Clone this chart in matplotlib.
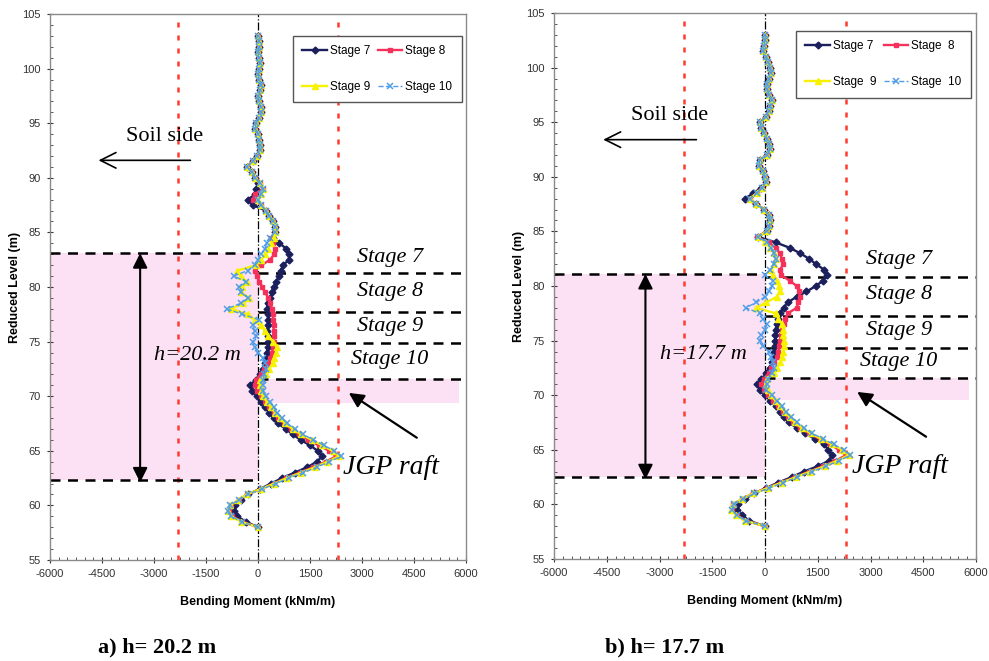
import matplotlib
matplotlib.use("Agg")
import matplotlib.pyplot as plt
from matplotlib.ticker import MultipleLocator

# pile node elevations (m)
levels = [58.0, 58.5, 59.0, 59.5, 60.0, 60.5, 61.0, 61.5, 62.0, 62.5,
          63.0, 63.5, 64.0, 64.5, 65.0, 65.5, 66.0, 66.5, 67.0, 67.5,
          68.0, 68.5, 69.0, 69.5, 70.0, 70.5, 71.0, 71.5, 72.0, 72.5,
          73.0, 73.5, 74.0, 74.5, 75.0, 75.5, 76.0, 76.5, 77.0, 77.5,
          78.0, 78.5, 79.0, 79.5, 80.0, 80.5, 81.0, 81.5, 82.0, 82.5,
          83.0, 83.5, 84.0, 84.5, 85.0, 85.5, 86.0, 86.5, 87.0, 87.5,
          88.0, 88.5, 89.0, 89.5, 90.0, 90.5, 91.0, 91.5, 92.0, 92.5,
          93.0, 93.5, 94.0, 94.5, 95.0, 95.5, 96.0, 96.5, 97.0, 97.5,
          98.0, 98.5, 99.0, 99.5, 100.0, 100.5, 101.0, 101.5, 102.0, 102.5,
          103.0]

# ---- case a) h = 20.2 m : bending moment (kNm/m) ----
# upper part of the wall, 90.0 m to 103.0 m (same for every stage)
top_a = [-80, -180, -330, -150, -20, 50, 60, 20, 0, -80,
         -60, 40, 100, 80, 20, 0, 60, 90, 30, 0,
         40, 60, 20, 0, 30, 20, 0]
a7 = [0, -350, -600, -700, -650, -500, -300, 50, 380, 690,
      1060, 1420, 1700, 1850, 1720, 1500, 1230, 1000, 800, 580,
      450, 320, 190, 80, -30, -170, -230, -60, 60, 150,
      200, 230, 250, 280, 290, 280, 270, 290, 290, 280,
      260, 280, 350, 400, 470, 530, 600, 660, 720, 900,
      880, 820, 620, 420, 480, 480, 420, 330, 220, -150,
      -290, -80, -50, 0] + top_a
a8 = [0, -450, -750, -850, -780, -560, -320, 80, 450, 800,
      1200, 1600, 1950, 2250, 2050, 1750, 1450, 1180, 950, 740,
      590, 460, 330, 210, 80, -30, -100, -60, 80, 170,
      280, 360, 400, 440, 470, 460, 450, 450, 440, 430,
      400, 360, 300, 200, 120, 40, -40, -90, 100, 350,
      470, 480, 420, 380, 480, 480, 420, 330, 220, 100,
      -150, -100, 150, 50] + top_a
a9 = [0, -480, -780, -860, -800, -570, -330, 80, 470, 830,
      1250, 1650, 2000, 2330, 2150, 1850, 1550, 1250, 1000, 790,
      640, 500, 370, 250, 150, 100, 50, 60, 240, 330,
      420, 460, 520, 540, 430, 300, 190, 80, -100, -300,
      -780, -430, -250, -500, -450, -330, -500, -600, -50, 100,
      200, 290, 380, 450, 480, 480, 420, 330, 220, 100,
      0, 80, 150, 50] + top_a
a10 = [0, -470, -770, -870, -800, -560, -300, 120, 520, 880,
       1300, 1700, 2050, 2400, 2200, 1900, 1600, 1300, 1060, 850,
       700, 560, 450, 340, 230, 150, 140, 150, 180, 230,
       200, 140, 0, -100, -150, -50, -100, -150, 30, -450,
       -900, -500, -280, -500, -550, -350, -700, -300, -100, 0,
       100, 200, 250, 340, 480, 480, 420, 330, 220, 100,
       0, 80, 150, 50] + top_a

# ---- case b) h = 17.7 m ----
top_b = [0, -60, -180, -150, 60, 140, 120, 50, -20, -100,
         -140, 30, 100, 150, 190, 120, 60, 50, 120, 180,
         150, 90, 20, -50, -30, 0, 0]
b7 = [0, -450, -640, -800, -780, -580, -300, 20, 380, 760,
      1100, 1500, 1820, 1900, 1800, 1680, 1420, 1140, 900, 690,
      550, 430, 310, 150, 0, -150, -220, -100, 40, 130,
      210, 250, 270, 280, 290, 290, 300, 330, 380, 430,
      530, 640, 900, 1180, 1450, 1650, 1750, 1680, 1450, 1250,
      1000, 700, 300, -200, 50, 120, 150, 100, -20, -250,
      -570, -330, -100, 30] + top_b
b8 = [0, -550, -800, -950, -900, -650, -350, 60, 450, 850,
      1250, 1650, 2000, 2300, 2100, 1850, 1550, 1250, 1000, 800,
      650, 500, 370, 230, 80, -30, -100, -40, 100, 180,
      270, 330, 380, 410, 430, 460, 490, 530, 580, 650,
      900, 950, 990, 980, 900, 700, 450, 430, 520, 480,
      420, 300, 100, -230, 50, 120, 150, 100, -20, -250,
      -430, -240, -80, 30] + top_b
b9 = [0, -560, -820, -960, -900, -650, -330, 80, 480, 880,
      1290, 1700, 2050, 2380, 2200, 1900, 1600, 1300, 1050, 850,
      700, 560, 420, 300, 160, 80, 30, 60, 250, 350,
      430, 480, 510, 530, 530, 520, 520, 480, 380, 300,
      -250, 40, 330, 420, 400, 330, 230, 180, 250, 300,
      270, 150, 0, -200, 50, 120, 150, 100, -20, -250,
      -430, -240, -80, 30] + top_b
b10 = [0, -540, -800, -940, -880, -620, -300, 120, 520, 920,
       1330, 1740, 2100, 2420, 2250, 1950, 1650, 1350, 1100, 900,
       750, 600, 470, 350, 200, 20, 50, 80, 200, 250,
       230, 180, 120, -50, -150, -100, 0, 50, -50, -150,
       -550, -250, 0, 120, 200, 230, 0, 150, 250, 300,
       250, 180, 50, -200, 50, 120, 150, 100, -20, -250,
       -430, -240, -80, 30] + top_b

labels_a = ["Stage 7", "Stage 8", "Stage 9", "Stage 10"]
labels_b = ["Stage 7", "Stage  8", "Stage  9", "Stage  10"]

SERIF = "Liberation Serif"
SANS = "Liberation Sans"
plt.rcParams["font.family"] = SANS
plt.rcParams["axes.unicode_minus"] = False

styles = [
    dict(color="#1b1f5c", marker="D", markersize=3.5, lw=1.7, ls="-"),
    dict(color="#f5305a", marker="s", markersize=3.5, lw=1.7, ls="-"),
    dict(color="#f7f200", marker="^", markersize=4, lw=1.7, ls="-"),
    dict(color="#4f9de8", marker="x", markersize=4.5, lw=1.0, ls="--", mew=1.1),
]


def draw_panel(ax, series, labels, box, band, bounds, stage_y, h_text,
               soil_y, leg_box):
    # shaded excavation zone and JGP raft band
    ax.fill_betweenx(box, -6000, 0, color="#fbe1f3", lw=0, zorder=0)
    ax.fill_betweenx(band, 0, 5800, color="#fbe1f3", lw=0, zorder=0)

    # design envelope and wall line
    for xv in (-2300, 2300):
        ax.axvline(xv, color="#ff3b2f", lw=1.8, ls=(0, (2, 3.2)), zorder=1)
    ax.axvline(0, color="black", lw=0.9, ls="-.", zorder=1)

    # excavation levels
    dash = dict(color="black", lw=1.8, ls=(0, (4, 3)), zorder=2)
    ax.plot([-6000, 0], [box[1], box[1]], **dash)
    ax.plot([-6000, 0], [box[0], box[0]], **dash)
    for yv in bounds:
        ax.plot([0, 6000], [yv, yv], **dash)

    handles = []
    for xs, lab, st in zip(series, labels, styles):
        h, = ax.plot(xs, levels, label=lab, zorder=3, **st)
        handles.append(h)

    # stage labels
    for yv, name in zip(stage_y, ["Stage 7", "Stage 8", "Stage 9", "Stage 10"]):
        ax.text(3800, yv, name, family=SERIF, style="italic", fontsize=16,
                ha="center", va="center", zorder=4)

    # excavation depth arrow
    ax.annotate("", xy=(-3400, box[0] - 0.2), xytext=(-3400, box[1]),
                arrowprops=dict(arrowstyle="<|-|>", color="black", lw=1.5,
                                mutation_scale=22, shrinkA=0, shrinkB=0),
                zorder=4)
    ax.text(-1750, 73.7, h_text, family=SERIF, style="italic", fontsize=16,
            ha="center", va="center", zorder=4)

    # soil side
    ax.text(-2700, soil_y + 2.2, "Soil side", family=SERIF, fontsize=16,
            ha="center", va="center")
    ax.annotate("", xy=(-4600, soil_y), xytext=(-1950, soil_y),
                arrowprops=dict(arrowstyle="->", color="black", lw=1.2,
                                mutation_scale=28, shrinkA=0, shrinkB=0))

    # JGP raft
    ax.text(3850, 63.5, "JGP raft", family=SERIF, style="italic", fontsize=20,
            ha="center", va="center", zorder=4)
    ax.annotate("", xy=(2620, 70.3), xytext=(4580, 66.2),
                arrowprops=dict(arrowstyle="-|>", color="black", lw=1.6,
                                mutation_scale=22, shrinkA=0, shrinkB=0))

    ax.set_xlim(-6000, 6000)
    ax.set_ylim(55, 105)
    ax.xaxis.set_major_locator(MultipleLocator(1500))
    ax.xaxis.set_minor_locator(MultipleLocator(250))
    ax.yaxis.set_major_locator(MultipleLocator(5))
    ax.yaxis.set_minor_locator(MultipleLocator(1))
    ax.tick_params(which="major", direction="inout", length=5, width=0.8,
                   labelsize=8, colors="#333333", pad=4)
    ax.tick_params(which="minor", direction="in", length=2.5, width=0.7,
                   colors="#555555")
    for sp in ax.spines.values():
        sp.set_color("#8a8a8a")
        sp.set_linewidth(1.0)
    ax.set_xlabel("Bending Moment (kNm/m)", fontsize=9, fontweight="bold",
                  labelpad=12)
    ax.set_ylabel("Reduced Level (m)", fontsize=9, fontweight="bold",
                  labelpad=1)

    order = [handles[0], handles[2], handles[1], handles[3]]
    leg = ax.legend(order, [h.get_label() for h in order], ncol=2,
                    loc="upper left", bbox_to_anchor=leg_box,
                    fontsize=8.5, frameon=True, fancybox=False, framealpha=1,
                    edgecolor="#555555", labelspacing=2.0, handlelength=2.1,
                    handletextpad=0.25, columnspacing=0.6, borderpad=0.8,
                    borderaxespad=0)
    leg.get_frame().set_linewidth(1.0)
    leg.set_zorder(5)


fig = plt.figure(figsize=(9.89, 6.61), dpi=100)
ax1 = fig.add_axes([50 / 989, 1 - 560 / 661, 416 / 989, 546 / 661])
ax2 = fig.add_axes([554 / 989, 1 - 559 / 661, 422 / 989, 546 / 661])

draw_panel(ax1, [a7, a8, a9, a10], labels_a,
           box=(62.3, 83.1), band=(69.4, 71.6),
           bounds=[81.3, 77.7, 74.9, 71.6],
           stage_y=[82.7, 79.6, 76.4, 73.4], h_text="h=20.2 m",
           soil_y=91.6, leg_box=(0.584, 0.96))
draw_panel(ax2, [b7, b8, b9, b10], labels_b,
           box=(62.5, 81.1), band=(69.6, 71.55),
           bounds=[80.8, 77.25, 74.35, 71.6],
           stage_y=[82.4, 79.2, 75.9, 73.1], h_text="h=17.7 m",
           soil_y=93.4, leg_box=(0.573, 0.967))

fig.text(157 / 989, 1 - 647 / 661, "a) h= 20.2 m", family=SERIF,
         fontweight="bold", fontsize=16, ha="center", va="center")
fig.text(665 / 989, 1 - 647 / 661, "b) h= 17.7 m", family=SERIF,
         fontweight="bold", fontsize=16, ha="center", va="center")

fig.savefig("out.png", dpi=100)
